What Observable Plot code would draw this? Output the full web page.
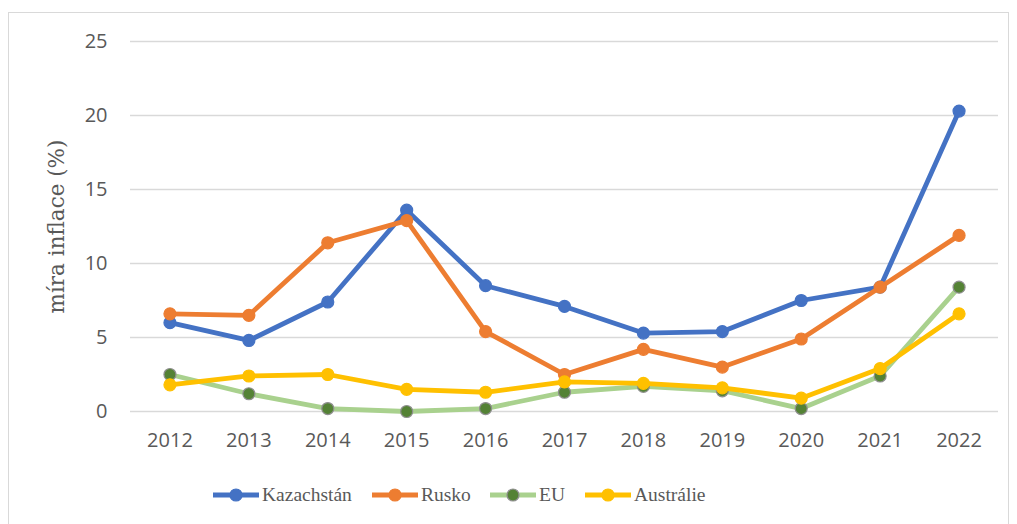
<!DOCTYPE html>
<html>
<head>
<meta charset="utf-8">
<script src="https://cdn.jsdelivr.net/npm/d3@7"></script>
<script src="https://cdn.jsdelivr.net/npm/@observablehq/plot@0.6"></script>
<style>
  body { margin: 0; background: #fff; }
  #wrap { position: relative; width: 1017px; height: 524px; overflow: hidden; }
  #frame { position: absolute; left: 8px; top: 12px; width: 1001px; height: 530px; border: 1px solid #d9d9d9; box-sizing: border-box; }
  #chart { position: absolute; left: 0; top: 0; }
  #legend { position: absolute; left: 0; top: 480px; width: 1017px; height: 30px; font-family: "Liberation Serif", "Times New Roman", serif; font-size: 19.5px; color: #595959; }
  .item { position: absolute; top: 0; height: 30px; display: flex; align-items: center; }
  .item svg { margin-right: 3px; }
</style>
</head>
<body>
<div id="wrap">
  <div id="frame"></div>
  <div id="chart"></div>
  <div id="legend"></div>
</div>
<script>
const years = ["2012","2013","2014","2015","2016","2017","2018","2019","2020","2021","2022"];
const kazachstan = [6.0, 4.8, 7.4, 13.6, 8.5, 7.1, 5.3, 5.4, 7.5, 8.4, 20.3];
const rusko      = [6.6, 6.5, 11.4, 12.9, 5.4, 2.5, 4.2, 3.0, 4.9, 8.4, 11.9];
const eu         = [2.5, 1.2, 0.2, 0.0, 0.2, 1.3, 1.7, 1.4, 0.2, 2.4, 8.4];
const australie  = [1.8, 2.4, 2.5, 1.5, 1.3, 2.0, 1.9, 1.6, 0.9, 2.9, 6.6];
const yTicks = [0, 5, 10, 15, 20, 25];
const seriesNames = ["Kazachstán", "Rusko", "EU", "Austrálie"];

const styles = {
  "Kazachstán": {line: "#4472c4", fill: "#4472c4", stroke: "#4472c4"},
  "Rusko":      {line: "#ed7d31", fill: "#ed7d31", stroke: "#ed7d31"},
  "EU":         {line: "#a9d18e", fill: "#548235", stroke: "#8f8f8f"},
  "Austrálie":  {line: "#ffc000", fill: "#ffc000", stroke: "#ffc000"}
};
const valuesBy = {"Kazachstán": kazachstan, "Rusko": rusko, "EU": eu, "Austrálie": australie};

const marks = [
  Plot.ruleY(yTicks, {stroke: "#d9d9d9", strokeWidth: 1.5}),
  Plot.axisY({ticks: yTicks, tickSize: 0, tickPadding: 23, fontSize: 20, fill: "#595959",
    label: "míra inflace (%)", labelAnchor: "center", labelOffset: 82, labelArrow: "none"}),
  Plot.axisX({tickSize: 0, tickPadding: 21, fontSize: 20, fill: "#595959", label: null})
];
for (const name of seriesNames) {
  const data = years.map((y, i) => ({year: y, value: valuesBy[name][i]}));
  const s = styles[name];
  marks.push(Plot.line(data, {x: "year", y: "value", stroke: s.line, strokeWidth: 4.8, strokeLinejoin: "round"}));
  marks.push(Plot.dot(data, {x: "year", y: "value", r: 6, fill: s.fill, stroke: s.stroke, strokeWidth: 1.2}));
}

const chart = Plot.plot({
  width: 1017,
  height: 460,
  marginLeft: 130,
  marginRight: 19,
  marginTop: 41,
  marginBottom: 49,
  style: {fontFamily: "'Open Sans', Calibri, sans-serif", background: "transparent"},
  x: {type: "point", domain: years, padding: 0.5, round: false},
  y: {domain: [0, 25]},
  marks
});
chart.querySelectorAll("g[aria-label='y-axis label']").forEach(el => {
  el.style.fontSize = "21.5px";
  el.style.fontFamily = "'DejaVu Serif', Cambria, serif";
  el.querySelectorAll("text").forEach(t => { t.style.fontSize = "21.5px"; t.style.fontFamily = "'DejaVu Serif', Cambria, serif"; });
});
document.getElementById("chart").appendChild(chart);

const lefts = [213, 372, 490, 585];
const legend = document.getElementById("legend");
seriesNames.forEach((name, i) => {
  const s = styles[name];
  const div = document.createElement("div");
  div.className = "item";
  div.style.left = lefts[i] + "px";
  div.innerHTML = `<svg width="46" height="30"><line x1="0" x2="46" y1="15" y2="15" stroke="${s.line}" stroke-width="4.8"/><circle cx="23" cy="15" r="6" fill="${s.fill}" stroke="${s.stroke}" stroke-width="1.2"/></svg><span>${name}</span>`;
  legend.appendChild(div);
});
</script>
</body>
</html>
